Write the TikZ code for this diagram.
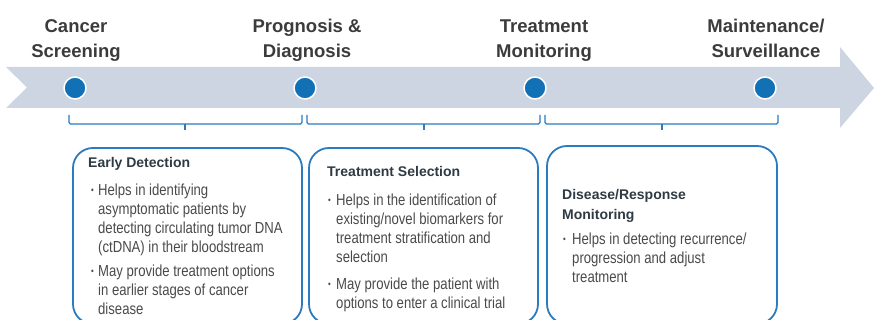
\documentclass[tikz,border=0pt]{standalone}
\usepackage{fontspec}
\setmainfont{Liberation Sans}
\newfontfamily\narrowfont[FakeStretch=0.82]{Liberation Sans}
\definecolor{bandgray}{HTML}{CDD5E3}
\definecolor{dotblue}{HTML}{1271B5}
\definecolor{boxblue}{HTML}{2B7BBE}
\definecolor{headgray}{HTML}{3B3B3B}
\definecolor{titlegray}{HTML}{2E3A44}
\definecolor{bodygray}{HTML}{4A4A4A}
\newcommand{\smallbul}[1]{\makebox[#1][l]{\raisebox{2pt}{\fontsize{9.5}{9.5}\selectfont\textbullet}}}

\begin{document}
\begin{tikzpicture}[x=1pt, y=-1pt,
	stage/.style={anchor=north, align=center, inner sep=0pt, text=headgray,
		font=\fontsize{18.5}{25}\selectfont\bfseries},
	stagedot/.style={circle, fill=dotblue, draw=white, line width=1.5pt,
		minimum size=22pt, inner sep=0pt},
	bracket/.style={draw=boxblue, line width=1.3pt, rounded corners=1.5pt},
	infobox/.style={draw=boxblue, line width=1.8pt, rounded corners=20pt},
	boxtitle/.style={anchor=base west, align=left, inner sep=0pt, text=titlegray,
		font=\fontsize{14}{20}\selectfont\bfseries},
	boxtext/.style={anchor=north west, align=left, inner sep=0pt, text=bodygray,
		font=\narrowfont\fontsize{16}{19}\selectfont}]
	\useasboundingbox (0,0) rectangle (874,320);

	\fill [bandgray] (6,67) -- (840,67) -- (840,47) -- (874,88) -- (840,128)
		-- (840,108) -- (6,108) -- (27,87.5) -- cycle;
	\node [stagedot] (screendot) at (75,88) {};
	\node [stagedot] (diagdot)   at (305,88) {};
	\node [stagedot] (treatdot)  at (535,88) {};
	\node [stagedot] (maintdot)  at (765,88) {};

	\node [stage] (screen) at (76,14.5)  {\strut Cancer\\Screening};
	\node [stage] (diag)   at (307,14.5) {\strut Prognosis \&\\Diagnosis};
	\node [stage] (treat)  at (544,14.5) {\strut Treatment\\Monitoring};
	\node [stage] (maint)  at (766,14.5) {\strut Maintenance/\\Surveillance};

	\draw [bracket] (69,115) -- (69,124) -- (302,124) -- (302,115);
	\draw [bracket] (185,124) -- (185,130);
	\draw [bracket] (307,115) -- (307,124) -- (540,124) -- (540,115);
	\draw [bracket] (424,124) -- (424,130);
	\draw [bracket] (545,115) -- (545,124) -- (778,124) -- (778,115);
	\draw [bracket] (662,124) -- (662,130);

	\draw [infobox] (73,148) rectangle (302,324);
	\draw [infobox] (309,148) rectangle (538,324);
	\draw [infobox] (547,146) rectangle (777,324);

	\node [boxtitle] (early) at (88,168) {Early Detection};
	\node [boxtext] (earlytext) at (91,181.7) {\strut\smallbul{7pt}Helps in identifying\\
		\hspace*{7pt}asymptomatic patients by\\
		\hspace*{7pt}detecting circulating tumor DNA\\
		\hspace*{7pt}(ctDNA) in their bloodstream\\[5pt]
		\smallbul{7pt}May provide treatment options\\
		\hspace*{7pt}in earlier stages of cancer\\
		\hspace*{7pt}disease};

	\node [boxtitle] (select) at (327,177) {Treatment Selection};
	\node [boxtext] (selecttext) at (328,191.7) {\strut\smallbul{8pt}Helps in the identification of\\
		\hspace*{8pt}existing/novel biomarkers for\\
		\hspace*{8pt}treatment stratification and\\
		\hspace*{8pt}selection\\[8pt]
		\smallbul{8pt}May provide the patient with\\
		\hspace*{8pt}options to enter a clinical trial};

	\node [boxtitle, anchor=north west] (monitor) at (562,185) {\strut Disease/Response\\Monitoring};
	\node [boxtext] (monitortext) at (563,230.7) {\strut\smallbul{9pt}Helps in detecting recurrence/\\
		\hspace*{9pt}progression and adjust\\
		\hspace*{9pt}treatment};
\end{tikzpicture}
\end{document}
